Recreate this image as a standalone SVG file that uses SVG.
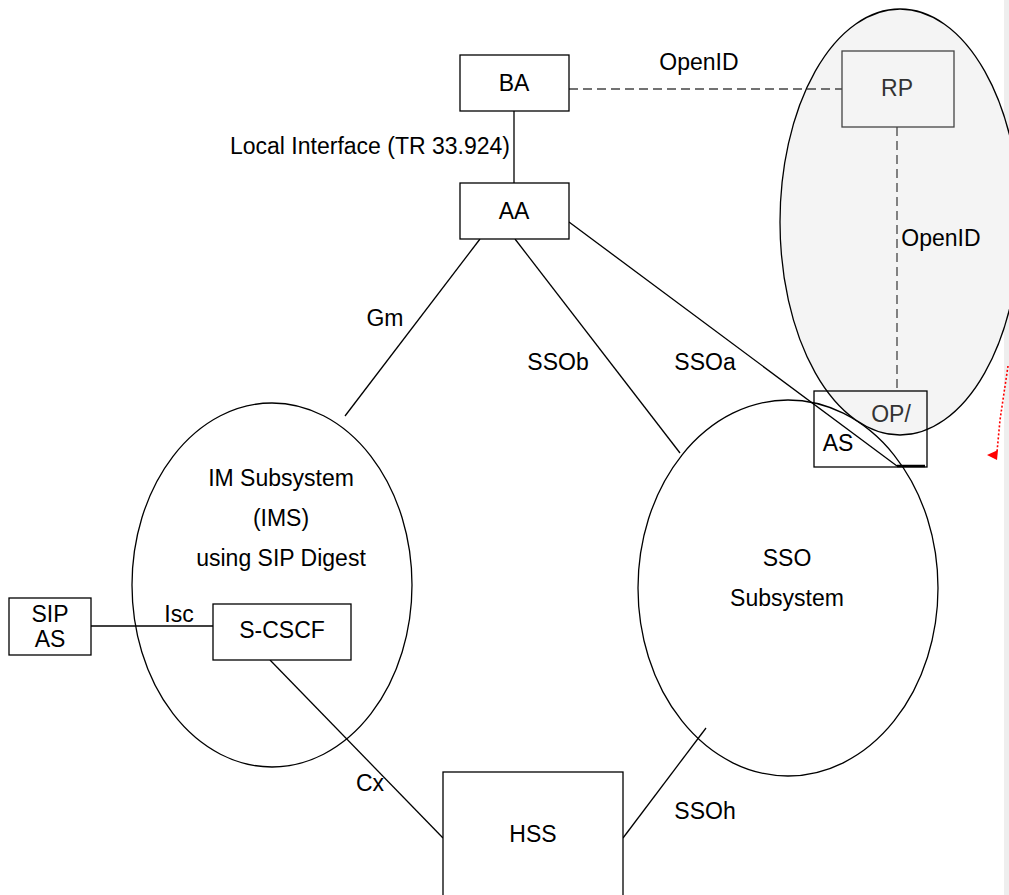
<svg xmlns="http://www.w3.org/2000/svg" width="1009" height="895" viewBox="0 0 1009 895">
<defs>
<style>
text{font-family:"Liberation Sans",Arial,sans-serif;font-size:23px;fill:#000;text-anchor:middle}
.g{fill:#333}
.box{fill:#fff;stroke:#000;stroke-width:1.3}
.gbox{fill:none;stroke:#444;stroke-width:1.3}
.ln{stroke:#000;stroke-width:1.3;fill:none}
.dash{stroke:#444;stroke-width:1.3;fill:none;stroke-dasharray:9 5}
.ell{fill:#fff;stroke:#000;stroke-width:1.3}
</style>
</defs>
<rect x="0" y="0" width="1009" height="895" fill="#fff"/>
<rect x="1004" y="0" width="5" height="895" fill="#eeeeee"/>

<g id="ims">
<ellipse class="ell" cx="272" cy="585" rx="140" ry="182"/>
<text x="281" y="486">IM Subsystem</text>
<text x="281" y="526">(IMS)</text>
<text x="281" y="566">using SIP Digest</text>
</g>
<g id="sso">
<ellipse class="ell" cx="788" cy="588" rx="150" ry="188"/>
<text x="787" y="566">SSO</text>
<text x="787" y="606">Subsystem</text>
</g>

<g id="openid-domain">
<ellipse cx="900" cy="222" rx="120" ry="213" fill="#f4f4f4" stroke="#000" stroke-width="1.3"/>
</g>

<g id="connectors">
<line class="ln" x1="514" y1="111" x2="514" y2="183"/>
<line class="ln" x1="480" y1="239" x2="345" y2="416"/>
<line class="ln" x1="515" y1="239" x2="680" y2="453"/>
<line class="ln" x1="569" y1="222" x2="897" y2="466"/>
<line x1="897" y1="466" x2="925" y2="466" stroke="#000" stroke-width="2.5"/>
<line class="ln" x1="91" y1="626" x2="213" y2="626"/>
<line class="ln" x1="270" y1="660" x2="443" y2="838"/>
<line class="ln" x1="623" y1="838" x2="706" y2="728"/>
<line class="dash" x1="569" y1="89" x2="842" y2="89"/>
<line class="dash" x1="897" y1="127" x2="897" y2="391"/>
<polyline points="1008,366 1000,420 997,452" fill="none" stroke="#f00" stroke-width="1.6" stroke-dasharray="2 2"/>
<polygon points="987,455 998,450 997,460" fill="#f00"/>
<text x="699" y="70">OpenID</text>
<text x="370" y="154">Local Interface (TR 33.924)</text>
<text x="941" y="246">OpenID</text>
<text x="385" y="326">Gm</text>
<text x="558" y="370">SSOb</text>
<text x="705" y="370">SSOa</text>
<text x="179" y="622">Isc</text>
<text x="370" y="791">Cx</text>
<text x="705" y="819">SSOh</text>
</g>

<g id="ba">
<rect class="box" x="460" y="55" width="109" height="56"/>
<text x="514" y="91">BA</text>
</g>
<g id="aa">
<rect class="box" x="460" y="183" width="109" height="56"/>
<text x="514" y="219">AA</text>
</g>
<g id="rp">
<rect class="gbox" x="842" y="51" width="112" height="76"/>
<text class="g" x="897" y="96">RP</text>
</g>
<g id="op-as">
<rect x="814" y="391" width="113" height="76" fill="none" stroke="#000" stroke-width="1.3"/>
<text class="g" x="891" y="422">OP/</text>
<text x="838" y="451">AS</text>
</g>
<g id="sip-as">
<rect class="box" x="9" y="598" width="82" height="57"/>
<text x="50" y="622">SIP</text>
<text x="50" y="647">AS</text>
</g>
<g id="s-cscf">
<rect class="box" x="213" y="604" width="138" height="56"/>
<text x="282" y="638">S-CSCF</text>
</g>
<g id="hss">
<rect class="box" x="443" y="772" width="180" height="130"/>
<text x="533" y="842">HSS</text>
</g>
</svg>
